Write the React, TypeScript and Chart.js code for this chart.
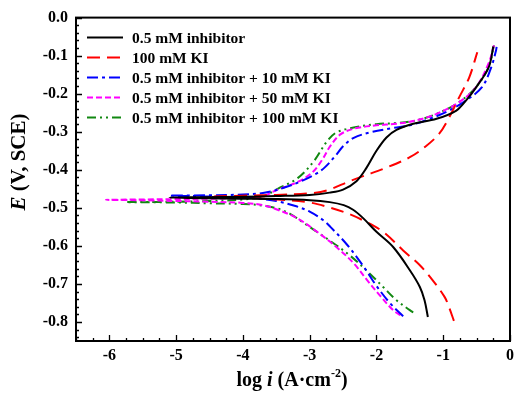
import { useEffect, useRef } from 'react';
import { Chart, registerables } from 'chart.js';
Chart.register(...registerables);

const seriesLabels = [
  '0.5 mM inhibitor',
  '100 mM KI',
  '0.5 mM inhibitor + 10 mM KI',
  '0.5 mM inhibitor + 50 mM KI',
  '0.5 mM inhibitor + 100 mM KI',
];

// Each curve: cathodic end -> corrosion point -> anodic end (log i, E)
const blackLogI = [-1.23, -1.28, -1.35, -1.5, -1.75, -2.0, -2.2, -2.35, -2.49, -2.7, -3.0, -3.5, -4.0, -4.6, -5.1,
  -4.6, -4.0, -3.5, -3.0, -2.7, -2.5, -2.3, -2.15, -2.0, -1.85, -1.7, -1.45, -1.1, -0.81, -0.66, -0.51, -0.32, -0.25];
const blackE = [-0.787, -0.743, -0.708, -0.664, -0.603, -0.563, -0.527, -0.505, -0.493, -0.485, -0.48, -0.477, -0.476, -0.475, -0.473,
  -0.472, -0.471, -0.469, -0.466, -0.46, -0.452, -0.43, -0.395, -0.35, -0.315, -0.295, -0.279, -0.266, -0.245, -0.218, -0.184, -0.131, -0.076];

const redLogI = [-0.84, -0.92, -0.98, -1.16, -1.35, -1.6, -1.9, -2.2, -2.44, -2.74, -3.0, -3.5, -4.0, -4.5,
  -4.0, -3.5, -3.0, -2.74, -2.4, -2.19, -1.89, -1.5, -1.26, -1.06, -0.91, -0.76, -0.61, -0.49];
const redE = [-0.797, -0.758, -0.734, -0.69, -0.651, -0.612, -0.563, -0.533, -0.514, -0.497, -0.486, -0.478, -0.474, -0.471,
  -0.468, -0.466, -0.462, -0.454, -0.43, -0.416, -0.397, -0.367, -0.338, -0.305, -0.262, -0.209, -0.157, -0.091];

const blueLogI = [-1.6, -1.8, -2.0, -2.19, -2.44, -2.69, -2.8, -3.0, -3.2, -3.5, -3.7, -4.0, -4.5, -5.1,
  -4.5, -4.0, -3.7, -3.4, -3.1, -2.9, -2.77, -2.6, -2.5, -2.34, -2.1, -1.75, -1.5, -1.2, -0.91, -0.66, -0.42, -0.28, -0.21, -0.2];
const blueE = [-0.785, -0.75, -0.705, -0.655, -0.597, -0.55, -0.532, -0.51, -0.496, -0.482, -0.477, -0.473, -0.47, -0.468,
  -0.467, -0.465, -0.461, -0.448, -0.428, -0.41, -0.393, -0.36, -0.338, -0.316, -0.302, -0.29, -0.283, -0.266, -0.244, -0.218, -0.183, -0.13, -0.087, -0.077];

const magentaLogI = [-1.64, -1.75, -1.95, -2.14, -2.34, -2.6, -2.89, -3.18, -3.48, -3.7, -4.0, -4.5, -5.0, -5.5, -6.05,
  -5.5, -5.0, -4.5, -4.0, -3.7, -3.48, -3.18, -2.95, -2.8, -2.69, -2.54, -2.34, -2.0, -1.7, -1.4, -1.1, -0.76, -0.51, -0.32, -0.24];
const magentaE = [-0.782, -0.769, -0.73, -0.69, -0.646, -0.603, -0.563, -0.528, -0.505, -0.493, -0.487, -0.484, -0.482, -0.48, -0.479,
  -0.478, -0.477, -0.476, -0.474, -0.469, -0.452, -0.432, -0.405, -0.37, -0.337, -0.307, -0.292, -0.283, -0.279, -0.27, -0.253, -0.222, -0.183, -0.12, -0.073];

const greenLogI = [-1.45, -1.5, -1.7, -1.9, -2.1, -2.4, -2.75, -3.08, -3.3, -3.48, -3.7, -4.0, -4.5, -5.0, -5.75,
  -5.0, -4.5, -4.0, -3.7, -3.48, -3.18, -2.94, -2.74, -2.6, -2.34, -2.0, -1.7, -1.4, -1.1, -0.76, -0.51, -0.32, -0.24];
const greenE = [-0.775, -0.769, -0.743, -0.708, -0.673, -0.625, -0.58, -0.541, -0.515, -0.502, -0.494, -0.49, -0.488, -0.486, -0.485,
  -0.484, -0.482, -0.478, -0.47, -0.45, -0.422, -0.378, -0.325, -0.302, -0.289, -0.28, -0.277, -0.27, -0.253, -0.222, -0.183, -0.13, -0.073];

const xTickValues = [-6, -5, -4, -3, -2, -1, 0];
const yTickValues = [0, -0.1, -0.2, -0.3, -0.4, -0.5, -0.6, -0.7, -0.8];

const SERIF = '"Liberation Serif", "Times New Roman", serif';

const styles = [
  { color: '#000000', dash: [] as number[] },
  { color: '#ff0000', dash: [13, 7] },
  { color: '#0000ff', dash: [11, 4, 3, 4] },
  { color: '#ff00ff', dash: [6, 3] },
  { color: '#118811', dash: [9, 4, 2, 4, 2, 4] },
];

const seriesX = [blackLogI, redLogI, blueLogI, magentaLogI, greenLogI];
const seriesY = [blackE, redE, blueE, magentaE, greenE];

const decorPlugin = {
  id: 'decor',
  afterDraw(chart: any) {
    const { ctx, chartArea } = chart;
    const { left, right, top, bottom } = chartArea;
    const x = chart.scales.x;
    const y = chart.scales.y;
    ctx.save();
    ctx.strokeStyle = '#000';
    // ticks (inward) on bottom and left
    ctx.lineWidth = 1.3;
    ctx.beginPath();
    for (let i = 0; i <= 26; i++) {
      const v = -6.5 + i * 0.25;
      const px = Math.round(x.getPixelForValue(v)) + 0.5;
      const major = Math.abs(v - Math.round(v)) < 1e-6;
      const len = major ? 6 : 3;
      ctx.moveTo(px, bottom);
      ctx.lineTo(px, bottom - len);
    }
    for (let i = 0; i <= 42; i++) {
      const v = -i * 0.02;
      const py = Math.round(y.getPixelForValue(v)) + 0.5;
      const major = i % 5 === 0;
      const len = major ? 6 : 3;
      ctx.moveTo(left, py);
      ctx.lineTo(left + len, py);
    }
    ctx.stroke();
    // frame
    ctx.lineWidth = 2;
    ctx.strokeRect(left, top, right - left, bottom - top);

    // legend
    ctx.lineWidth = 2;
    ctx.textBaseline = 'middle';
    ctx.textAlign = 'left';
    ctx.fillStyle = '#000';
    ctx.font = `bold 15.5px ${SERIF}`;
    seriesLabels.forEach((lab, i) => {
      const cy = top + 20 + i * 20;
      ctx.strokeStyle = styles[i].color;
      ctx.setLineDash(styles[i].dash);
      ctx.beginPath();
      ctx.moveTo(left + 11, cy);
      ctx.lineTo(left + 47, cy);
      ctx.stroke();
      ctx.setLineDash([]);
      ctx.fillText(lab, left + 56, cy + 1);
    });

    // y title
    ctx.save();
    ctx.translate(20, 162);
    ctx.rotate(-Math.PI / 2);
    const fE = `italic bold 21px ${SERIF}`;
    const fN = `bold 21px ${SERIF}`;
    ctx.font = fE;
    const wE = ctx.measureText('E').width;
    ctx.font = fN;
    const wR = ctx.measureText(' (V, SCE)').width;
    const sx = -(wE + wR) / 2;
    ctx.font = fE;
    ctx.fillText('E', sx, 0);
    ctx.font = fN;
    ctx.fillText(' (V, SCE)', sx + wE, 0);
    ctx.restore();

    // x title
    const parts = [
      { t: 'log ', f: `bold 20px ${SERIF}`, dy: 0 },
      { t: 'i', f: `italic bold 20px ${SERIF}`, dy: 0 },
      { t: ' (A\u00B7cm', f: `bold 20px ${SERIF}`, dy: 0 },
      { t: '-2', f: `bold 12px ${SERIF}`, dy: -7 },
      { t: ')', f: `bold 20px ${SERIF}`, dy: 0 },
    ];
    let total = 0;
    const widths = parts.map((p) => {
      ctx.font = p.f;
      const w = ctx.measureText(p.t).width;
      total += w;
      return w;
    });
    let cx = 292 - total / 2;
    parts.forEach((p, i) => {
      ctx.font = p.f;
      ctx.fillText(p.t, cx, 381 + p.dy);
      cx += widths[i];
    });
    ctx.restore();
  },
};

export default function App() {
  const ref = useRef<HTMLCanvasElement | null>(null);
  useEffect(() => {
    if (!ref.current) return;
    const datasets = seriesLabels.map((lab, i) => ({
      label: lab,
      data: seriesX[i].map((v, j) => ({ x: v, y: seriesY[i][j] })),
      showLine: true,
      borderColor: styles[i].color,
      backgroundColor: styles[i].color,
      borderDash: styles[i].dash,
      borderWidth: 2,
      pointRadius: 0,
      tension: 0.35,
      fill: false,
    }));
    const tickFont = { family: SERIF, size: 16, weight: 'bold' as const };
    const chart = new Chart(ref.current, {
      type: 'scatter',
      data: { datasets },
      options: {
        animation: false,
        responsive: false,
        layout: { padding: { left: 0, right: 4, top: 17, bottom: 0 } },
        plugins: { legend: { display: false }, tooltip: { enabled: false } },
        scales: {
          x: {
            type: 'linear',
            min: -6.5,
            max: 0,
            grid: { display: false, drawTicks: false, tickLength: 0 },
            border: { display: false },
            ticks: { font: tickFont, color: '#000', padding: 5, maxRotation: 0, autoSkip: false },
            afterBuildTicks: (s: any) => {
              s.ticks = xTickValues.map((v) => ({ value: v }));
            },
            afterFit: (s: any) => {
              s.height = 53;
            },
          },
          y: {
            type: 'linear',
            min: -0.85,
            max: 0,
            grid: { display: false, drawTicks: false, tickLength: 0 },
            border: { display: false },
            ticks: {
              font: tickFont,
              color: '#000',
              padding: 8,
              autoSkip: false,
              callback: (v: any) => Number(v).toFixed(1),
            },
            afterBuildTicks: (s: any) => {
              s.ticks = yTickValues.map((v) => ({ value: v }));
            },
            afterFit: (s: any) => {
              s.width = 76;
            },
          },
        },
      },
      plugins: [decorPlugin],
    });
    return () => chart.destroy();
  }, []);
  return (
    <div style={{ position: 'absolute', left: 0, top: 0, width: 519, height: 394, background: '#fff' }}>
      <canvas ref={ref} width={519} height={394} style={{ display: 'block' }} />
    </div>
  );
}
